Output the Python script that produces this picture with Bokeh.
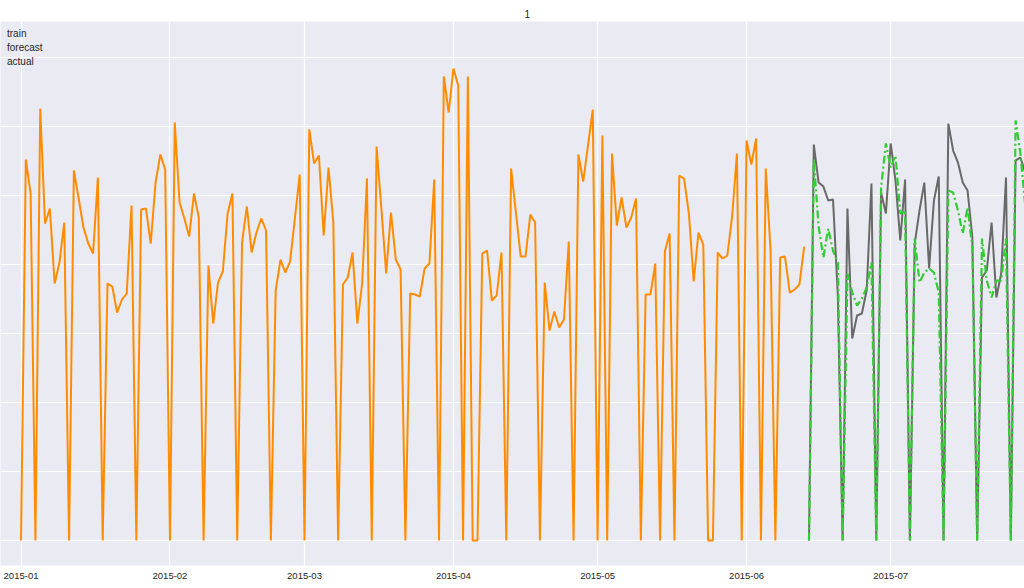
import pandas as pd
from bokeh.plotting import figure
from bokeh.models import (Range1d, FixedTicker, SingleIntervalTicker,
                          DatetimeTickFormatter, Legend, LegendItem, ColumnDataSource)
from bokeh.embed import file_html
from bokeh.resources import INLINE

# ---------------- data ----------------
title_text = "1"
train_start = "2015-01-01"
train_sales = [
    0, 5522, 5029, 0, 6261, 4594, 4812, 3725, 4029, 4609,
    0, 5362, 4957, 4536, 4304, 4159, 5261, 0, 3725, 3681,
    3304, 3493, 3580, 4855, 0, 4797, 4812, 4304, 5188, 5594,
    5377, 0, 6058, 4899, 4667, 4406, 5029, 4681, 0, 3986,
    3145, 3739, 3899, 4739, 5029, 0, 4319, 4841, 4174, 4464,
    4667, 4493, 0, 3623, 4072, 3884, 4043, 4667, 5304, 0,
    5957, 5464, 5580, 4420, 5406, 4609, 0, 3710, 3812, 4174,
    3145, 3725, 5246, 0, 5710, 4812, 3870, 4754, 4072, 3928,
    0, 3580, 3565, 3536, 3942, 4014, 5232, 0, 6725, 6203,
    6841, 6594, 0, 6725, 0, 0, 4159, 4203, 3478, 3551,
    4174, 0, 5391, 4754, 4116, 4116, 4725, 4609, 0, 3739,
    3043, 3319, 3087, 3203, 4333, 0, 5594, 5203, 5725, 6246,
    0, 5870, 0, 5609, 4565, 4971, 4536, 4681, 4957, 0,
    3565, 3565, 4014, 0, 4188, 4449, 0, 5290, 5246, 4739,
    3754, 4464, 4290, 0, 0, 4174, 4087, 4130, 4696, 5609,
    0, 5797, 5449, 5826, 0, 5391, 4203, 0, 4101, 4116,
    3594, 3638, 3710, 4261,
]
test_start = "2015-06-14"
actual_sales = [
    0, 5739, 5188, 5130, 4928, 4942, 3551, 0, 4812, 2928,
    3261, 3290, 3623, 5174, 0, 5043, 4739, 5754, 5217, 4348,
    5232, 0, 4304, 4783, 5188, 3942, 4928, 5275, 0, 6043,
    5652, 5478, 5188, 5072, 4391, 0, 3812, 3913, 4609, 3522,
    3870, 5261, 0, 5507, 5551, 5333,
]
forecast_sales = [
    0, 5522, 4550, 4100, 4520, 4200, 4029, 0, 3870, 3594,
    3406, 3507, 3667, 4029, 0, 5116, 5754, 5406, 5580, 4739,
    4783, 0, 4377, 3739, 3884, 3942, 3884, 3594, 0, 5072,
    5043, 4783, 4449, 4826, 4246, 0, 4377, 3768, 3522, 3768,
    3768, 4377, 0, 6087, 5609, 4855,
]
month_ticks = ["2015-01-01", "2015-02-01", "2015-03-01", "2015-04-01",
               "2015-05-01", "2015-06-01", "2015-07-01", "2015-08-01"]
legend_labels = ["train", "forecast", "actual"]

# ---------------- build ----------------
train_src = ColumnDataSource(dict(
    date=pd.date_range(train_start, periods=len(train_sales), freq="D"),
    sales=train_sales))
test_src = ColumnDataSource(dict(
    date=pd.date_range(test_start, periods=len(actual_sales), freq="D"),
    actual=actual_sales, forecast=forecast_sales))

t0 = pd.Timestamp(train_start)
x_range = Range1d(t0 - pd.Timedelta(days=4.27), t0 + pd.Timedelta(days=208.85))
y_range = Range1d(-362, 7522)

FONT = "Liberation Sans"
TXT = "#262626"

p = figure(x_axis_type="datetime", x_range=x_range, y_range=y_range,
           frame_width=1024, frame_height=544,
           output_backend="svg", toolbar_location=None,
           min_border_left=0, min_border_right=0,
           min_border_top=21, min_border_bottom=23,
           background_fill_color="#EAEAF2", border_fill_color="white",
           outline_line_color=None, title=title_text)

p.title.align = "left"
p.title.offset = 524
p.title.text_font = FONT
p.title.text_font_size = "10px"
p.title.text_font_style = "normal"
p.title.text_color = TXT
p.title.standoff = 8

month_ms = [pd.Timestamp(m).value // 10**6 for m in month_ticks]
p.xaxis.ticker = FixedTicker(ticks=month_ms)
p.xaxis.formatter = DatetimeTickFormatter(
    years="%Y-%m", months="%Y-%m", days="%Y-%m", hours="%Y-%m",
    minutes="%Y-%m", seconds="%Y-%m", milliseconds="%Y-%m")
p.xaxis.axis_line_color = None
p.xaxis.major_tick_line_color = None
p.xaxis.minor_tick_line_color = None
p.xaxis.major_tick_out = 0
p.xaxis.major_tick_in = 0
p.xaxis.minor_tick_out = 0
p.xaxis.major_label_text_font = FONT
p.xaxis.major_label_text_font_size = "9.5px"
p.xaxis.major_label_text_color = TXT
p.xaxis.major_label_standoff = 7
p.yaxis.visible = False

p.xgrid.ticker = FixedTicker(ticks=month_ms)
p.ygrid.ticker = SingleIntervalTicker(interval=1000)
p.grid.grid_line_color = "white"
p.grid.grid_line_width = 1.2

r_train = p.line("date", "sales", source=train_src, line_color="darkorange",
                 line_width=2)
r_actual = p.line("date", "actual", source=test_src, line_color="dimgray",
                  line_width=2)
r_fc = p.line("date", "forecast", source=test_src, line_color="limegreen",
              line_width=2.2, line_dash="8 3 2 3")

legend = Legend(items=[LegendItem(label=legend_labels[0], renderers=[r_train]),
                       LegendItem(label=legend_labels[1], renderers=[r_fc]),
                       LegendItem(label=legend_labels[2], renderers=[r_actual])],
                location=(2, 492), glyph_width=0, glyph_height=14,
                label_height=14, label_standoff=0, spacing=0, padding=5,
                margin=0, background_fill_alpha=0, border_line_alpha=0,
                label_text_font=FONT, label_text_font_size="10px",
                label_text_color=TXT)
p.add_layout(legend, "center")

open("out.html", "w").write(file_html(p, INLINE))
